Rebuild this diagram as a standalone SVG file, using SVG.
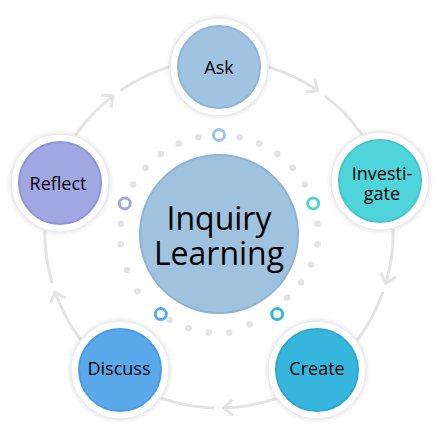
<svg xmlns="http://www.w3.org/2000/svg" width="438" height="438" viewBox="0 0 438 438">
<defs>
<style>
.ring{fill:none;stroke:#e4e4e4;stroke-width:3}
.dot{fill:#e3e3e3}
.mark{fill:#fff;stroke-width:3}
.outer{fill:#fff;stroke:#ebebeb;stroke-width:1.5;filter:url(#sh)}
.inner{stroke-width:2}
.lbl{font-family:"Open Sans","Noto Sans",sans-serif;font-size:18px;fill:#000;text-anchor:middle}
.big{font-family:"Open Sans","Noto Sans",sans-serif;font-size:32px;fill:#000;text-anchor:middle}
</style>
<filter id="sh" x="-20%" y="-20%" width="140%" height="140%">
<feDropShadow dx="0" dy="0" stdDeviation="2" flood-color="#000" flood-opacity="0.15"/>
</filter>
<marker id="chev" markerUnits="userSpaceOnUse" markerWidth="24" markerHeight="24" refX="0" refY="0" viewBox="-12 -12 24 24" orient="auto" overflow="visible">
<path d="M-9,-8 L0,0 L-9,8" fill="none" stroke="#e4e4e4" stroke-width="3"/>
</marker>
</defs>
<rect width="438" height="438" fill="#fff"/>
<g id="connectors">
<path class="ring" d="M219,60 A174,174 0 0 1 317.6,90.6" marker-end="url(#chev)"/>
<path class="ring" d="M324.9,95.9 A174,174 0 0 1 384.5,180.2"/>
<path class="ring" d="M384.5,180.2 A174,174 0 0 1 385.8,283.4" marker-end="url(#chev)"/>
<path class="ring" d="M383,292.1 A174,174 0 0 1 321.3,374.8"/>
<path class="ring" d="M321.3,374.8 A174,174 0 0 1 223.6,407.9" marker-end="url(#chev)"/>
<path class="ring" d="M214.4,407.9 A174,174 0 0 1 116.7,374.8"/>
<path class="ring" d="M116.7,374.8 A174,174 0 0 1 55,292.1" marker-end="url(#chev)"/>
<path class="ring" d="M52.2,283.4 A174,174 0 0 1 53.5,180.2"/>
<path class="ring" d="M53.5,180.2 A174,174 0 0 1 113.1,95.9" marker-end="url(#chev)"/>
<path class="ring" d="M120.4,90.6 A174,174 0 0 1 219,60"/>
</g>
<g id="dots">
<circle class="dot" cx="239.6" cy="137.2" r="3.3"/>
<circle class="dot" cx="259.3" cy="143.6" r="3.3"/>
<circle class="dot" cx="277.2" cy="153.9" r="3.3"/>
<circle class="dot" cx="292.6" cy="167.8" r="3.3"/>
<circle class="dot" cx="304.7" cy="184.5" r="3.3"/>
<circle class="dot" cx="317.5" cy="223.7" r="3.3"/>
<circle class="dot" cx="317.5" cy="244.3" r="3.3"/>
<circle class="dot" cx="311.2" cy="264.6" r="3.3"/>
<circle class="dot" cx="300.9" cy="282.5" r="3.3"/>
<circle class="dot" cx="287.1" cy="297.6" r="3.3"/>
<circle class="dot" cx="249.6" cy="324.2" r="3.3"/>
<circle class="dot" cx="229.3" cy="332.5" r="3.3"/>
<circle class="dot" cx="208.7" cy="332.5" r="3.3"/>
<circle class="dot" cx="188.4" cy="328.2" r="3.3"/>
<circle class="dot" cx="169.5" cy="319.7" r="3.3"/>
<circle class="dot" cx="137.4" cy="291.5" r="3.3"/>
<circle class="dot" cx="126.9" cy="270" r="3.3"/>
<circle class="dot" cx="120.8" cy="244.3" r="3.3"/>
<circle class="dot" cx="120.8" cy="223.7" r="3.3"/>
<circle class="dot" cx="123" cy="203.4" r="3.3"/>
<circle class="dot" cx="133.3" cy="184.5" r="3.3"/>
<circle class="dot" cx="145.4" cy="167.8" r="3.3"/>
<circle class="dot" cx="160.8" cy="153.9" r="3.3"/>
<circle class="dot" cx="178.7" cy="143.6" r="3.3"/>
<circle class="dot" cx="198.4" cy="137.2" r="3.3"/>
<circle class="mark" cx="219" cy="135" r="5.5" stroke="#a0c3e1"/>
<circle class="mark" cx="313.2" cy="203.4" r="5.5" stroke="#4fd4da"/>
<circle class="mark" cx="277.2" cy="314.1" r="5.5" stroke="#36b6dd"/>
<circle class="mark" cx="160.8" cy="314.1" r="5.5" stroke="#5aaaeb"/>
<circle class="mark" cx="124.8" cy="203.4" r="5.5" stroke="#a0a7e2"/>
</g>
<g id="center">
<circle cx="219" cy="234" r="79" fill="#9fc2df" stroke="#8db3d5" stroke-width="2"/>
<text class="big"><tspan x="219" y="230">Inquiry</tspan><tspan x="219" y="265">Learning</tspan></text>
</g>
<g id="ask">
<circle class="outer" cx="219" cy="67" r="49"/>
<circle class="inner" cx="219" cy="67" r="41" fill="#a0c3e1" stroke="#91b6d8"/>
<text class="lbl" x="219" y="74">Ask</text>
</g>
<g id="investigate">
<circle class="outer" cx="380" cy="181" r="49"/>
<circle class="inner" cx="380" cy="181" r="41" fill="#4fd4da" stroke="#45c5cd"/>
<text class="lbl" font-size="17"><tspan x="382" y="180">Investi-</tspan><tspan x="382" y="200">gate</tspan></text>
</g>
<g id="create">
<circle class="outer" cx="317" cy="370" r="49"/>
<circle class="inner" cx="317" cy="370" r="41" fill="#36b6dd" stroke="#2fa8d2"/>
<text class="lbl" x="317" y="375">Create</text>
</g>
<g id="discuss">
<circle class="outer" cx="120" cy="370" r="49"/>
<circle class="inner" cx="120" cy="370" r="41" fill="#5aaaeb" stroke="#4f9de0"/>
<text class="lbl" x="119" y="375">Discuss</text>
</g>
<g id="reflect">
<circle class="outer" cx="60" cy="183" r="49"/>
<circle class="inner" cx="60" cy="183" r="41" fill="#a0a7e2" stroke="#8f97d8"/>
<text class="lbl" x="58" y="190">Reflect</text>
</g>
</svg>
